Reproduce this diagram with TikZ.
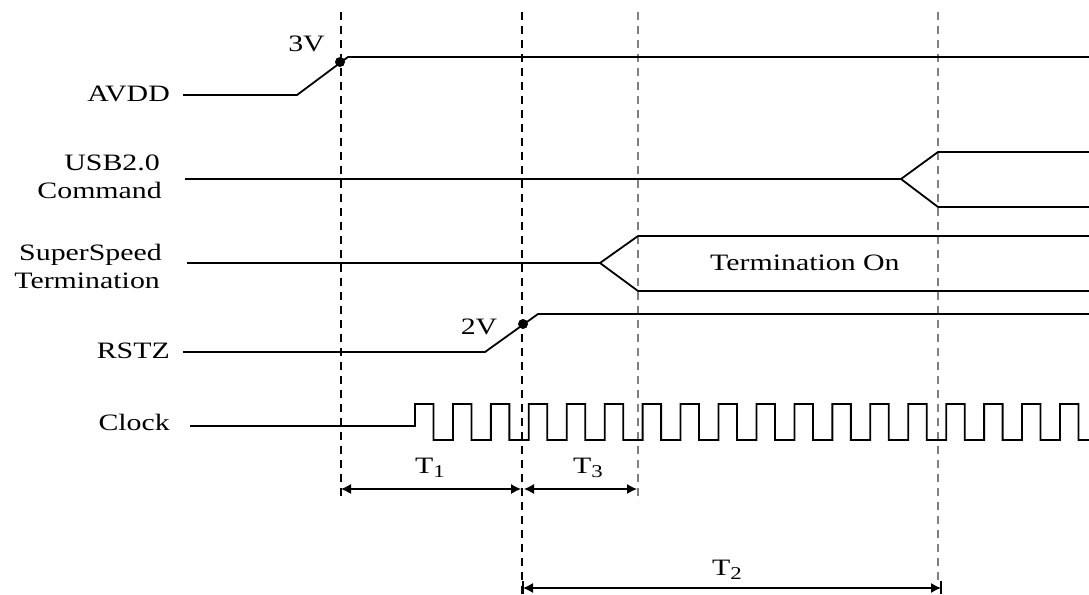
\documentclass[tikz,border=0pt]{standalone}
\usepackage{fontspec}
\setmainfont[FakeStretch=1.27]{Liberation Serif}
\usetikzlibrary{arrows.meta}
\begin{document}
\begin{tikzpicture}[x=1pt,y=-1pt,
  sig/.style={line width=1.8pt, line join=miter},
  vdash/.style={line width=1.5pt, dash pattern=on 8pt off 6pt},
  gdash/.style={vdash, draw=black!50},
  lbl/.style={font=\fontsize{23.5}{27}\selectfont, inner sep=0pt},
  dimarrow/.style={line width=1.2pt, {Latex[length=10pt,width=10pt]}-{Latex[length=10pt,width=10pt]}},
  tick/.style={line width=1.5pt},
  dotmark/.style={circle, fill=black, minimum size=10pt, inner sep=0pt}]
\useasboundingbox (0,0) rectangle (1089,594);
% vertical dashed reference lines
\draw[vdash] (341,12) -- (341,497);
\draw[vdash] (522,12) -- (522,594);
\draw[gdash] (638,12) -- (638,502);
\draw[gdash] (938,12) -- (938,584);
% labels
\node[lbl, anchor=east] (avdd) at (170,94) {AVDD};
\node[lbl, anchor=base east] (usb) at (160,170) {USB2.0};
\node[lbl, anchor=base east] (cmd) at (162,198) {Command};
\node[lbl, anchor=base east] (ss) at (162,260) {SuperSpeed};
\node[lbl, anchor=base east] (term) at (160,288) {Termination};
\node[lbl, anchor=east] (rstz) at (170,351) {RSTZ};
\node[lbl, anchor=east] (clk) at (170,422) {Clock};
% AVDD
\draw[sig] (183,95) -- (297,95) -- (348,57) -- (1089,57);
\node[dotmark] (d3) at (340,62) {};
\node[lbl] (v3) at (306.5,43.5) {3V};
% USB2.0 Command
\draw[sig] (185,179) -- (901,179);
\draw[sig] (1089,152) -- (938,152) -- (901,179) -- (938,207) -- (1089,207);
% SuperSpeed Termination
\draw[sig] (187,263) -- (600,263);
\draw[sig] (1089,236) -- (638,236) -- (600,263) -- (638,291) -- (1089,291);
\node[lbl, anchor=base west] (ton) at (710,270) {Termination On};
% RSTZ
\draw[sig] (183,352) -- (485,352) -- (538,314) -- (1089,314);
\node[dotmark] (d2) at (523,324) {};
\node[lbl] (v2) at (479,326.5) {2V};
% Clock
\draw[sig] (190,426) -- (415,426)
  \foreach \k in {0,...,16}{ -- ({415+37.94*\k},404) -- ({433.5+37.94*\k},404)
     -- ({433.5+37.94*\k},440) -- ({452.94+37.94*\k},440) }
  -- (1060,404) -- (1078.5,404) -- (1078.5,440) -- (1089,440);
% timing dimensions
\coordinate (t1a) at (341,489);
\coordinate (t1b) at (521,489);
\coordinate (t3a) at (524,489);
\coordinate (t3b) at (637,489);
\coordinate (t2a) at (523,588);
\coordinate (t2b) at (941,588);
\draw[dimarrow] (t1a) -- (t1b);
\draw[dimarrow] (t3a) -- (t3b);
\draw[dimarrow] (t2a) -- (t2b);
\draw[tick] (523,581) -- (523,594);
\draw[tick] (941,581) -- (941,594);
\node[lbl, anchor=base west] (T1) at (415,473) {T\raisebox{-4pt}{\fontsize{18}{18}\selectfont 1}};
\node[lbl, anchor=base west] (T3) at (573,473) {T\raisebox{-4pt}{\fontsize{18}{18}\selectfont 3}};
\node[lbl, anchor=base west] (T2) at (712,575) {T\raisebox{-4pt}{\fontsize{18}{18}\selectfont 2}};
\end{tikzpicture}
\end{document}
